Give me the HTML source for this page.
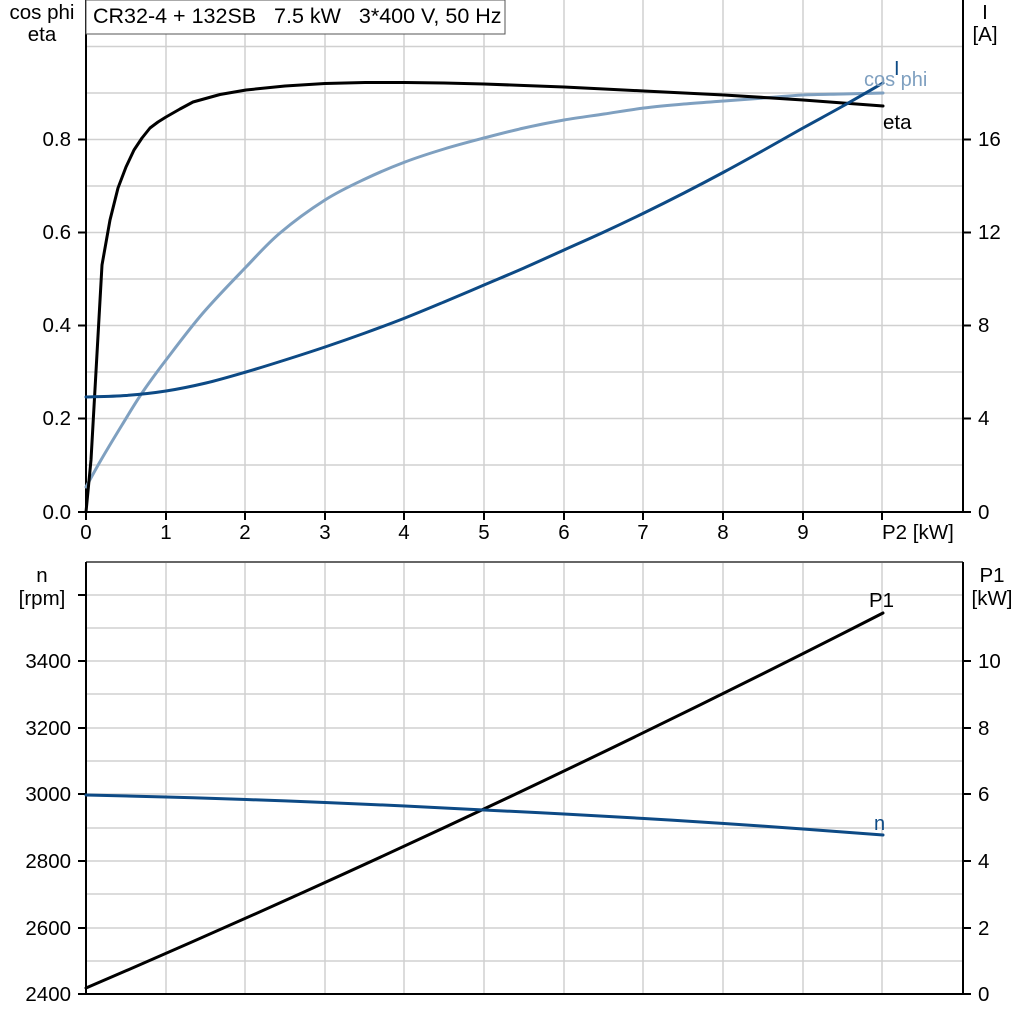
<!DOCTYPE html>
<html><head><meta charset="utf-8"><style>
body{margin:0;background:#fff;}
svg{display:block;font-family:"Liberation Sans",Arial,sans-serif;}
text{white-space:pre;}
</style></head><body>
<svg width="1024" height="1024" viewBox="0 0 1024 1024">
<g stroke="#d0d0d0" stroke-width="1.5" fill="none">
<path d="M166 0V512M245 0V512M325 0V512M404 0V512M484 0V512M564 0V512M643 0V512M723 0V512M803 0V512M882 0V512"/>
<path d="M86 46.5H963M86 93H963M86 139.5H963M86 186H963M86 232.5H963M86 279H963M86 325.5H963M86 372H963M86 418.5H963M86 465H963"/>
<path d="M166 562V994M245 562V994M325 562V994M404 562V994M484 562V994M564 562V994M643 562V994M723 562V994M803 562V994M882 562V994"/>
<path d="M86 595H963M86 628H963M86 661H963M86 694H963M86 728H963M86 761H963M86 794H963M86 828H963M86 861H963M86 894H963M86 928H963M86 961H963"/>
</g>
<line x1="86" y1="562" x2="963" y2="562" stroke="#666" stroke-width="2"/>
<g stroke="#000" stroke-width="2" fill="none">
<path d="M86 0V512H963V0"/>
<path d="M86 562V994H963V562"/>
<path d="M78 139.5H86M78 232.5H86M78 325.5H86M78 418.5H86M78 512H86"/>
<path d="M963 139.5H971M963 232.5H971M963 325.5H971M963 418.5H971M963 512H971"/>
<path d="M86 512V520M166 512V520M245 512V520M325 512V520M404 512V520M484 512V520M564 512V520M643 512V520M723 512V520M803 512V520M882 512V520"/>
<path d="M78 595H86M78 661H86M78 728H86M78 794H86M78 861H86M78 928H86M78 994H86"/>
<path d="M963 661H971M963 728H971M963 794H971M963 861H971M963 928H971M963 994H971"/>
</g>
<rect x="86" y="0" width="419" height="34" fill="#fff" stroke="#555" stroke-width="1"/>
<text x="93" y="23" font-size="21.5" xml:space="preserve">CR32-4 + 132SB   7.5 kW   3*400 V, 50 Hz</text>
<g font-size="20.5" fill="#000">
<text x="42" y="19" text-anchor="middle">cos phi</text>
<text x="42" y="41" text-anchor="middle">eta</text>
<text x="71" y="146" text-anchor="end">0.8</text>
<text x="71" y="239" text-anchor="end">0.6</text>
<text x="71" y="332" text-anchor="end">0.4</text>
<text x="71" y="425" text-anchor="end">0.2</text>
<text x="71" y="519" text-anchor="end">0.0</text>
<text x="985" y="19" text-anchor="middle">I</text>
<text x="985" y="41" text-anchor="middle">[A]</text>
<text x="978" y="146">16</text><text x="978" y="239">12</text><text x="978" y="332">8</text><text x="978" y="425">4</text><text x="978" y="519">0</text>
<g text-anchor="middle">
<text x="86" y="539">0</text><text x="166" y="539">1</text><text x="245" y="539">2</text><text x="325" y="539">3</text><text x="404" y="539">4</text><text x="484" y="539">5</text><text x="564" y="539">6</text><text x="643" y="539">7</text><text x="723" y="539">8</text><text x="803" y="539">9</text>
</g>
<text x="882" y="539">P2 [kW]</text>
<text x="42" y="582" text-anchor="middle">n</text>
<text x="42" y="605" text-anchor="middle">[rpm]</text>
<text x="71" y="668" text-anchor="end">3400</text><text x="71" y="735" text-anchor="end">3200</text><text x="71" y="801" text-anchor="end">3000</text><text x="71" y="868" text-anchor="end">2800</text><text x="71" y="935" text-anchor="end">2600</text><text x="71" y="1001" text-anchor="end">2400</text>
<text x="992" y="582" text-anchor="middle">P1</text>
<text x="992" y="605" text-anchor="middle">[kW]</text>
<text x="978" y="668">10</text><text x="978" y="735">8</text><text x="978" y="801">6</text><text x="978" y="868">4</text><text x="978" y="935">2</text><text x="978" y="1001">0</text>
<text x="869" y="607">P1</text>
<text x="883" y="129">eta</text>
</g>
<g fill="none" stroke-width="3" stroke-linejoin="round" stroke-linecap="round">
<polyline class="sm" stroke="#7fa0c0" points="86,487 101,460 122,425 142,393 166,360 203,313 246,267 280,233 325,200 365,179 405,162 444,149 484,138 524,128 564,120 604,114 644,108 684,104 724,101 764,98 803,95 843,94 883,93"/>
<polyline stroke="#000" points="86,512 91,460 102,265 110,220 118,188 126,167 134,150 142,138 150,128 158,122 166,117 180,109 193,102 220,94.5 246,90 285,86 325,83.5 365,82.5 405,82.5 444,83 484,84 524,85.5 564,87 604,89 644,91 684,93 724,95 764,97.5 803,100 843,103 883,106"/>
<polyline class="sm" stroke="#0d4a85" points="86,397 126,395.5 166,391 206,383 246,372 285,360 325,347 365,333 405,318 444,302 484,285 524,268 564,250 604,232 644,213 684,193 724,172 764,150 803,128 843,106 883,83"/>
<path stroke="#000" d="M86 988 Q483.5 817.5 883 613"/>
<polyline class="sm" stroke="#0d4a85" points="86,795 166,797 246,799.5 325,802.5 405,806 484,810 564,814 644,818.5 724,823.5 803,829 883,835"/>
</g>
<text x="864" y="86" font-size="20" fill="#7fa0c0">cos phi</text>
<text x="894" y="75" font-size="20" fill="#0d4a85">I</text>
<text x="874" y="830" font-size="20" fill="#0d4a85">n</text>
</svg>
<script>
document.querySelectorAll('polyline.sm').forEach(function(pl){
var p=pl.getAttribute('points').trim().split(/\s+/).map(function(s){return s.split(',').map(Number);});
var d='M'+p[0][0]+' '+p[0][1];
for(var i=0;i<p.length-1;i++){
var p0=p[i-1]||p[i],p1=p[i],p2=p[i+1],p3=p[i+2]||p2;
var c1x=p1[0]+(p2[0]-p0[0])/6,c1y=p1[1]+(p2[1]-p0[1])/6;
var c2x=p2[0]-(p3[0]-p1[0])/6,c2y=p2[1]-(p3[1]-p1[1])/6;
d+=' C'+c1x+' '+c1y+' '+c2x+' '+c2y+' '+p2[0]+' '+p2[1];}
var path=document.createElementNS('http://www.w3.org/2000/svg','path');
path.setAttribute('d',d);path.setAttribute('stroke',pl.getAttribute('stroke'));
pl.parentNode.replaceChild(path,pl);});
</script>
</body></html>
